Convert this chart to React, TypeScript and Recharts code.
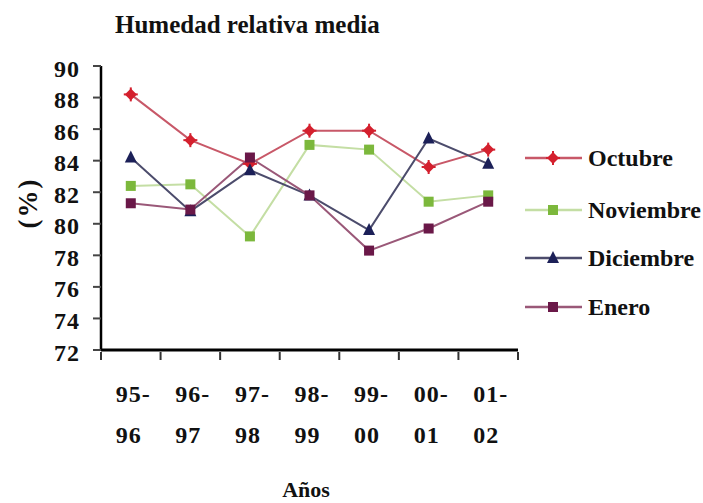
import { LineChart, Line, XAxis, YAxis } from 'recharts'

const seasons = ['95-96', '96-97', '97-98', '98-99', '99-00', '00-01', '01-02']
const octubre = [88.2, 85.3, 83.8, 85.9, 85.9, 83.6, 84.7]
const noviembre = [82.4, 82.5, 79.2, 85.0, 84.7, 81.4, 81.8]
const diciembre = [84.2, 80.8, 83.4, 81.8, 79.6, 85.4, 83.8]
const enero = [81.3, 80.9, 84.2, 81.8, 78.3, 79.7, 81.4]
const yTicks = [72, 74, 76, 78, 80, 82, 84, 86, 88, 90]

const data = seasons.map((season, i) => ({
  season,
  octubre: octubre[i],
  noviembre: noviembre[i],
  diciembre: diciembre[i],
  enero: enero[i],
}))

const W = 703
const H = 503
const PLOT_LEFT = 101
const PLOT_RIGHT = 518
const PLOT_TOP = 66
const PLOT_BOTTOM = 350
const BAND = (PLOT_RIGHT - PLOT_LEFT) / seasons.length
const FONT = '"Liberation Serif", "DejaVu Serif", serif'

type Shape = 'star' | 'square' | 'triangle'

const Marker = ({ cx, cy, shape, color }: { cx: number; cy: number; shape: Shape; color: string }) => {
  if (shape === 'square') return <rect x={cx - 5} y={cy - 5} width={10} height={10} fill={color} />
  if (shape === 'triangle')
    return <polygon points={`${cx},${cy - 7} ${cx + 6},${cy + 5} ${cx - 6},${cy + 5}`} fill={color} />
  return (
    <g>
      <polygon points={`${cx},${cy - 6} ${cx + 6},${cy} ${cx},${cy + 6} ${cx - 6},${cy}`} fill={color} />
      <line x1={cx - 7} y1={cy} x2={cx + 7} y2={cy} stroke={color} strokeWidth={2} />
      <line x1={cx} y1={cy - 7} x2={cx} y2={cy + 7} stroke={color} strokeWidth={2} />
    </g>
  )
}

const series = [
  { key: 'octubre', name: 'Octubre', line: '#c85868', marker: '#d4202e', shape: 'star' as Shape },
  { key: 'noviembre', name: 'Noviembre', line: '#c4dea4', marker: '#7cb83c', shape: 'square' as Shape },
  { key: 'diciembre', name: 'Diciembre', line: '#4c4c6c', marker: '#1c2058', shape: 'triangle' as Shape },
  { key: 'enero', name: 'Enero', line: '#9a5878', marker: '#6a1848', shape: 'square' as Shape },
]

const SeasonTick = (props: any) => {
  const { x, y, payload, index } = props
  const [a, b] = String(payload.value).split('-')
  const left = x - BAND / 2
  return (
    <g>
      <line x1={left} y1={y - 6} x2={left} y2={y + 2} stroke="#333" strokeWidth={2} />
      {index === seasons.length - 1 && (
        <line x1={left + BAND} y1={y - 6} x2={left + BAND} y2={y + 2} stroke="#333" strokeWidth={2} />
      )}
      <text x={x - 15} y={y + 44} fontFamily={FONT} fontWeight="bold" fontSize={24} letterSpacing={1} fill="#111">
        {a}-
      </text>
      <text x={x - 15} y={y + 85} fontFamily={FONT} fontWeight="bold" fontSize={24} letterSpacing={1} fill="#111">
        {b}
      </text>
    </g>
  )
}

export default function App() {
  return (
    <div style={{ position: 'absolute', left: 0, top: 0, width: W, height: H, background: '#fff', fontFamily: FONT }}>
      <div
        style={{
          position: 'absolute',
          left: 115,
          top: 11,
          fontSize: 25,
          fontWeight: 'bold',
          letterSpacing: 0,
          color: '#111',
          whiteSpace: 'nowrap',
        }}
      >
        Humedad relativa media
      </div>
      <div
        style={{
          position: 'absolute',
          left: 28,
          top: 203,
          transform: 'translate(-50%, -50%) rotate(-90deg)',
          fontSize: 27,
          fontWeight: 'bold',
          letterSpacing: 2,
          color: '#111',
          whiteSpace: 'nowrap',
        }}
      >
        (%)
      </div>
      <div
        style={{
          position: 'absolute',
          left: 306,
          top: 477,
          transform: 'translateX(-50%)',
          fontSize: 22,
          fontWeight: 'bold',
          color: '#111',
        }}
      >
        Años
      </div>
      <LineChart
        width={W}
        height={H}
        data={data}
        margin={{ top: PLOT_TOP, right: W - PLOT_RIGHT, bottom: H - PLOT_BOTTOM - 120, left: PLOT_LEFT - 60 }}
      >
        <XAxis
          dataKey="season"
          height={120}
          interval={0}
          padding={{ left: BAND / 2, right: BAND / 2 }}
          tickLine={false}
          tickSize={6}
          tick={<SeasonTick />}
          axisLine={{ stroke: '#000', strokeWidth: 3 }}
        />
        <YAxis
          width={60}
          domain={[72, 90]}
          ticks={yTicks}
          interval={0}
          tickSize={8}
          tickMargin={13}
          axisLine={{ stroke: '#000', strokeWidth: 2.5 }}
          tickLine={{ stroke: '#444', strokeWidth: 2 }}
          tick={{ fontFamily: FONT, fontWeight: 'bold', fontSize: 24, letterSpacing: 1, fill: '#111', dy: 2 }}
        />
        {series.map((s) => (
          <Line
            key={s.key}
            dataKey={s.key}
            name={s.name}
            stroke={s.line}
            strokeWidth={2}
            isAnimationActive={false}
            dot={(p: any) => <Marker key={`${s.key}-${p.index}`} cx={p.cx} cy={p.cy} shape={s.shape} color={s.marker} />}
            activeDot={false}
          />
        ))}
      </LineChart>
      {series.map((s, i) => {
        const cy = [158, 210, 258, 307][i]
        return (
          <div key={s.key} style={{ position: 'absolute', left: 522, top: cy - 16, height: 32, display: 'flex', alignItems: 'center' }}>
            <svg width={62} height={32}>
              <line x1={3} y1={16} x2={60} y2={16} stroke={s.line} strokeWidth={2.5} />
              <Marker cx={31} cy={16} shape={s.shape} color={s.marker} />
            </svg>
            <span style={{ marginLeft: 4, fontSize: 24, fontWeight: 'bold', color: '#111', letterSpacing: 0, whiteSpace: 'nowrap' }}>
              {s.name}
            </span>
          </div>
        )
      })}
    </div>
  )
}
